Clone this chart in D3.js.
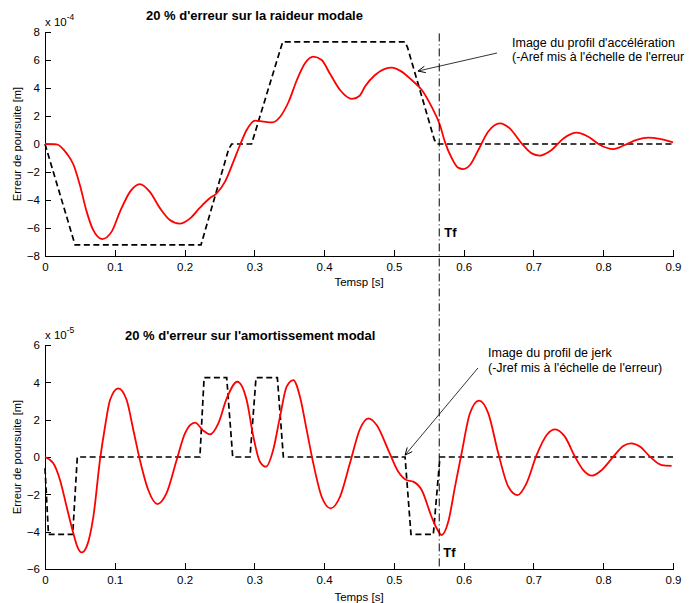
<!DOCTYPE html>
<html>
<head>
<meta charset="utf-8">
<script src="https://cdn.jsdelivr.net/npm/d3@7"></script>
<style>
  html, body { margin: 0; padding: 0; background: #fff; }
  svg { display: block; }
  text { font-family: "Liberation Sans", Arial, sans-serif; fill: #000; }
</style>
</head>
<body>
<svg id="chart" width="689" height="603"></svg>
<script>
// ---------------- DATA ----------------
const xTicks = [0, 0.1, 0.2, 0.3, 0.4, 0.5, 0.6, 0.7, 0.8, 0.9];
const yTicksTop = [-8, -6, -4, -2, 0, 2, 4, 6, 8];
const yTicksBot = [-6, -4, -2, 0, 2, 4, 6];
const Tf = 0.565;

// Top: tracking error (x1e-4 m), 20% stiffness error
const redTopT = [0, 0.0167, 0.031, 0.041, 0.050, 0.0597, 0.069, 0.082, 0.0955, 0.1075, 0.122, 0.136, 0.150, 0.165, 0.179, 0.193, 0.208, 0.222, 0.236, 0.246, 0.258, 0.270, 0.2795, 0.289, 0.301, 0.313, 0.326, 0.337, 0.349, 0.361, 0.3726, 0.3845, 0.3965, 0.408, 0.4228, 0.440, 0.451, 0.4586, 0.473, 0.487, 0.4969, 0.511, 0.5255, 0.540, 0.554, 0.566, 0.573, 0.583, 0.592, 0.5995, 0.609, 0.621, 0.635, 0.652, 0.666, 0.683, 0.6975, 0.709, 0.726, 0.743, 0.762, 0.7786, 0.7954, 0.8145, 0.831, 0.848, 0.8646, 0.881, 0.9];
const redTopV = [0, -0.02, -0.67, -1.5, -2.93, -4.83, -6.14, -6.79, -6.26, -4.83, -3.4, -2.86, -3.4, -4.6, -5.43, -5.69, -5.31, -4.55, -3.88, -3.52, -2.69, -1.26, -0.07, 1.0, 1.67, 1.6, 1.55, 1.95, 3.0, 4.57, 5.76, 6.24, 6.0, 5.05, 3.86, 3.22, 3.45, 4.1, 4.93, 5.36, 5.45, 5.17, 4.57, 3.86, 2.67, 1.36, 0.17, -1.02, -1.69, -1.79, -1.5, -0.43, 0.88, 1.48, 1.12, 0.05, -0.67, -0.83, -0.43, 0.4, 0.81, 0.52, -0.07, -0.36, -0.07, 0.29, 0.45, 0.36, 0.12];

// Top: scaled acceleration profile (-Aref)
const accT = [0, 0.043, 0.2236, 0.263, 0.2675, 0.296, 0.3406, 0.516, 0.5195, 0.558, 0.562, 0.9];
const accV = [0, -7.2, -7.2, -0.4, 0, 0, 7.3, 7.3, 6.9, 0.3, 0, 0];

// Bottom: tracking error (x1e-5 m), 20% damping error
const redBotT = [0, 0.0119, 0.0215, 0.031, 0.0406, 0.0463, 0.0526, 0.0597, 0.0693, 0.0788, 0.086, 0.0932, 0.105, 0.117, 0.1266, 0.136, 0.148, 0.161, 0.174, 0.1887, 0.2006, 0.215, 0.2269, 0.2365, 0.2484, 0.2604, 0.2756, 0.289, 0.2986, 0.308, 0.3167, 0.327, 0.3368, 0.3463, 0.3559, 0.3654, 0.375, 0.3845, 0.3965, 0.4094, 0.4228, 0.437, 0.4514, 0.4633, 0.4753, 0.492, 0.5063, 0.518, 0.5278, 0.5398, 0.554, 0.5613, 0.5685, 0.578, 0.5876, 0.597, 0.609, 0.622, 0.6353, 0.6496, 0.664, 0.6774, 0.690, 0.7046, 0.719, 0.731, 0.745, 0.7595, 0.7714, 0.7843, 0.7978, 0.8145, 0.8287, 0.840, 0.853, 0.867, 0.8838, 0.898];
const redBotV = [0, -0.34, -1.23, -2.66, -4.09, -4.8, -5.11, -4.8, -3.2, -0.16, 1.62, 3.05, 3.68, 3.05, 1.45, -0.16, -1.77, -2.52, -1.95, -0.16, 1.27, 1.84, 1.41, 1.21, 1.8, 3.14, 4.03, 3.05, 1.09, -0.25, -0.52, 0.37, 2.16, 3.77, 4.12, 3.23, 1.45, -0.34, -2.13, -2.75, -2.13, -0.34, 1.5, 2.07, 1.71, 0.37, -0.79, -1.23, -1.32, -1.77, -3.2, -3.82, -4.18, -3.46, -1.59, 0.2, 2.34, 3.02, 2.34, 0.2, -1.59, -2.04, -1.41, 0.11, 1.18, 1.48, 1.09, 0.02, -0.7, -1.0, -0.7, 0.02, 0.59, 0.73, 0.55, 0.02, -0.43, -0.48];

// Bottom: scaled jerk profile (-Jref)
const jerkT = [0, 0.005, 0.0397, 0.0463, 0.222, 0.228, 0.2604, 0.269, 0.2938, 0.3024, 0.333, 0.3416, 0.516, 0.5245, 0.5565, 0.566, 0.9];
const jerkV = [-0.6, -4.15, -4.15, 0, 0, 4.25, 4.25, 0, 0, 4.25, 4.25, 0, 0, -4.15, -4.15, 0, 0];

// Text
const titleTop = "20 % d'erreur sur la raideur modale";
const titleBot = "20 % d'erreur sur l'amortissement modal";
const xLabelTop = "Temsp [s]";
const xLabelBot = "Temps [s]";
const yLabel = "Erreur de poursuite [m]";
const annotTop = ["Image du profil d'accélération", "(-Aref mis à l'échelle de l'erreur"];
const annotBot = ["Image du profil de jerk", "(-Jref mis à l'échelle de l'erreur)"];
// arrows: [tailT, tailV, tipT, tipV]
const arrowTop = [0.6478, 6.5, 0.5345, 5.21];
const arrowBot = [0.6205, 4.77, 0.516, 0.1];

// ---------------- DRAW ----------------
const svg = d3.select("#chart");
svg.append("rect").attr("width", 689).attr("height", 603).attr("fill", "#fff");

const x = d3.scaleLinear().domain([0, 0.9]).range([45, 673]);
const yTop = d3.scaleLinear().domain([-8, 8]).range([256, 32]);
const yBot = d3.scaleLinear().domain([-6, 6]).range([569, 345]);

function drawAxes(y, yTicks, axisY, xLab, labY, expLabel, expY) {
  const gx = svg.append("g").attr("transform", `translate(0,${axisY})`)
    .call(d3.axisBottom(x).tickValues(xTicks).tickFormat(d => d === 0 ? "0" : d3.format(".1f")(d))
      .tickSizeInner(-6).tickSizeOuter(0).tickPadding(7));
  const gy = svg.append("g").attr("transform", `translate(${x(0)},0)`)
    .call(d3.axisLeft(y).tickValues(yTicks).tickFormat(d3.format("d"))
      .tickSizeInner(-6).tickSizeOuter(0).tickPadding(5));
  [gx, gy].forEach(g => {
    g.selectAll("path,line").attr("stroke", "#000").attr("stroke-width", 1).attr("shape-rendering", "crispEdges");
    g.selectAll("text").attr("font-size", 11.5).attr("font-family", "'Liberation Sans', Arial, sans-serif").attr("fill", "#222");
  });
  svg.append("text").attr("x", (x(0) + x(0.9)) / 2).attr("y", labY)
    .attr("text-anchor", "middle").attr("font-size", 11.5).text(xLab);
  const ymid = (y.range()[0] + y.range()[1]) / 2;
  svg.append("text").attr("transform", `translate(21,${ymid}) rotate(-90)`)
    .attr("text-anchor", "middle").attr("font-size", 11.2).text(yLabel);
  const e = svg.append("text").attr("x", 45).attr("y", expY).attr("font-size", 11.5);
  e.append("tspan").text("x 10");
  e.append("tspan").attr("font-size", 8.5).attr("dy", -6).text(expLabel);
}

drawAxes(yTop, yTicksTop, 256, xLabelTop, 286, "-4", 26);
drawAxes(yBot, yTicksBot, 569, xLabelBot, 601, "-5", 339);

function drawLines(y, tArr, vArr, rT, rV) {
  const lineLin = d3.line().x(d => x(d[0])).y(d => y(d[1]));
  svg.append("path").datum(tArr.map((t, i) => [t, vArr[i]]))
    .attr("d", lineLin).attr("fill", "none").attr("stroke", "#000")
    .attr("stroke-width", 1.7).attr("stroke-dasharray", "6,3.5");
  const lineRed = d3.line().x(d => x(d[0])).y(d => y(d[1])).curve(d3.curveMonotoneX);
  svg.append("path").datum(rT.map((t, i) => [t, rV[i]]))
    .attr("d", lineRed).attr("fill", "none").attr("stroke", "#ff0000").attr("stroke-width", 1.8);
}
drawLines(yTop, accT, accV, redTopT, redTopV);
drawLines(yBot, jerkT, jerkV, redBotT, redBotV);

// Tf vertical dash-dot line across both plots
svg.append("line").attr("x1", x(Tf)).attr("x2", x(Tf))
  .attr("y1", yTop(7.9)).attr("y2", yBot(-6))
  .attr("stroke", "#000").attr("stroke-width", 1)
  .attr("stroke-dasharray", "8,3,1,3");
svg.append("text").attr("x", x(Tf) + 5).attr("y", yTop(-6.65)).attr("font-size", 13)
  .attr("font-weight", "bold").text("Tf");
svg.append("text").attr("x", x(Tf) + 4).attr("y", yBot(-5.35)).attr("font-size", 13)
  .attr("font-weight", "bold").text("Tf");

// Titles
svg.append("text").attr("x", 146).attr("y", 20).attr("font-size", 13).attr("font-weight", "bold").text(titleTop);
svg.append("text").attr("x", 125).attr("y", 340).attr("font-size", 13).attr("font-weight", "bold").text(titleBot);

// Annotations
function annot(lines, tx, ty, dy) {
  lines.forEach((s, i) => {
    svg.append("text").attr("x", tx).attr("y", ty + i * dy).attr("font-size", 12.5).text(s);
  });
}
annot(annotTop, 512, 46.5, 14.5);
annot(annotBot, 488, 356.5, 15);

function arrow(y, a) {
  const x1 = x(a[0]), y1 = y(a[1]), x2 = x(a[2]), y2 = y(a[3]);
  svg.append("line").attr("x1", x1).attr("y1", y1).attr("x2", x2).attr("y2", y2)
    .attr("stroke", "#000").attr("stroke-width", 0.8);
  const ang = Math.atan2(y1 - y2, x1 - x2);
  const L = 8, w = 0.42;
  [ang - w, ang + w].forEach(a2 => {
    svg.append("line").attr("x1", x2).attr("y1", y2)
      .attr("x2", x2 + L * Math.cos(a2)).attr("y2", y2 + L * Math.sin(a2))
      .attr("stroke", "#000").attr("stroke-width", 1);
  });
}
arrow(yTop, arrowTop);
arrow(yBot, arrowBot);
</script>
</body>
</html>
